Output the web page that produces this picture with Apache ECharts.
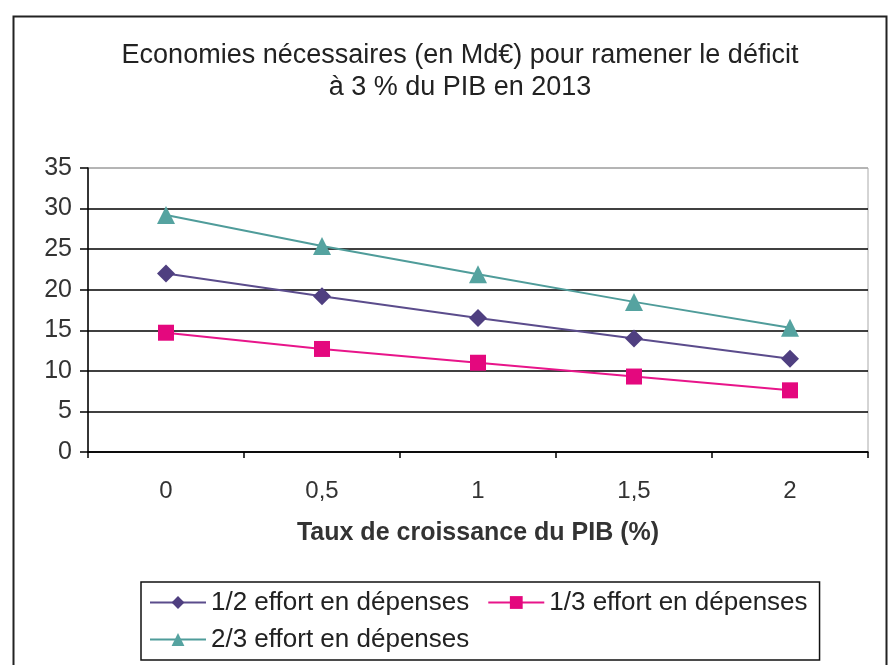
<!DOCTYPE html>
<html><head><meta charset="utf-8">
<script src="https://cdn.jsdelivr.net/npm/echarts@6/dist/echarts.min.js"></script>
<style>html,body{margin:0;padding:0;background:#fff}#c{width:888px;height:665px}</style>
</head><body><div id="c"></div>
<script>
var categories = ['0', '0,5', '1', '1,5', '2'];
var demi = [22.0, 19.2, 16.5, 14.0, 11.5];
var tiers = [14.7, 12.7, 11.0, 9.3, 7.6];
var deuxTiers = [29.2, 25.4, 21.9, 18.5, 15.3];
var seriesNames = ['1/2 effort en dépenses', '1/3 effort en dépenses', '2/3 effort en dépenses'];
var titleText = 'Economies nécessaires (en Md€) pour ramener le déficit\nà 3 % du PIB en 2013';
var xTitle = 'Taux de croissance du PIB (%)';

var FONT = 'Liberation Sans, Arial, sans-serif';
var chart = echarts.init(document.getElementById('c'), null, {renderer: 'canvas'});
chart.setOption({
  backgroundColor: '#fff',
  animation: false,
  textStyle: {fontFamily: FONT},
  graphic: [{
    type: 'rect', left: 11, top: 14, z: 0,
    shape: {width: 873, height: 660},
    style: {fill: 'none', stroke: '#222', lineWidth: 2}
  }],
  title: {
    text: titleText, left: 455, textAlign: 'center', top: 35,
    textStyle: {fontSize: 27, fontWeight: 'normal', color: '#222', lineHeight: 32, fontFamily: FONT}
  },
  legend: {
    left: 141, top: 582,
    padding: [6, 2, 6, 8],
    borderColor: '#111', borderWidth: 1.5,
    itemWidth: 56, itemHeight: 16, itemGap: 8,
    textStyle: {fontSize: 26, color: '#222', fontFamily: FONT, padding: [0, 10, 0, 0], lineHeight: 29},
    data: seriesNames
  },
  grid: {left: 88, right: 20, top: 168, bottom: 213, show: true, borderColor: '#aaa', borderWidth: 1},
  xAxis: {
    type: 'category', data: categories, boundaryGap: true,
    axisLine: {lineStyle: {color: '#000', width: 1.5}},
    axisTick: {show: true, length: 6, lineStyle: {color: '#000', width: 1.5}},
    axisLabel: {fontSize: 24, color: '#333', margin: 27, fontFamily: FONT},
    name: xTitle, nameLocation: 'middle', nameGap: 69,
    nameTextStyle: {fontSize: 25, fontWeight: 'bold', color: '#333', fontFamily: FONT}
  },
  yAxis: {
    type: 'value', min: 0, max: 35, interval: 5,
    axisLine: {show: true, lineStyle: {color: '#000', width: 1.5}},
    axisTick: {show: true, length: 8, lineStyle: {color: '#000', width: 1.5}},
    axisLabel: {fontSize: 25, color: '#333', margin: 16, fontFamily: FONT},
    splitLine: {show: true, lineStyle: {color: ['#000','#000','#000','#000','#000','#000','#000','#aaa'], width: 1.5}}
  },
  series: [
    {name: seriesNames[0], type: 'line', data: demi, symbol: 'diamond', symbolSize: 18,
     lineStyle: {color: '#5b4c8c', width: 2}, itemStyle: {color: '#4f3f80'}},
    {name: seriesNames[1], type: 'line', data: tiers, symbol: 'rect', symbolSize: 16,
     lineStyle: {color: '#e8158a', width: 2}, itemStyle: {color: '#e4087e'}},
    {name: seriesNames[2], type: 'line', data: deuxTiers, symbol: 'triangle', symbolSize: 18,
     lineStyle: {color: '#4f9c9a', width: 2}, itemStyle: {color: '#55a3a0'}}
  ]
});
</script></body></html>
